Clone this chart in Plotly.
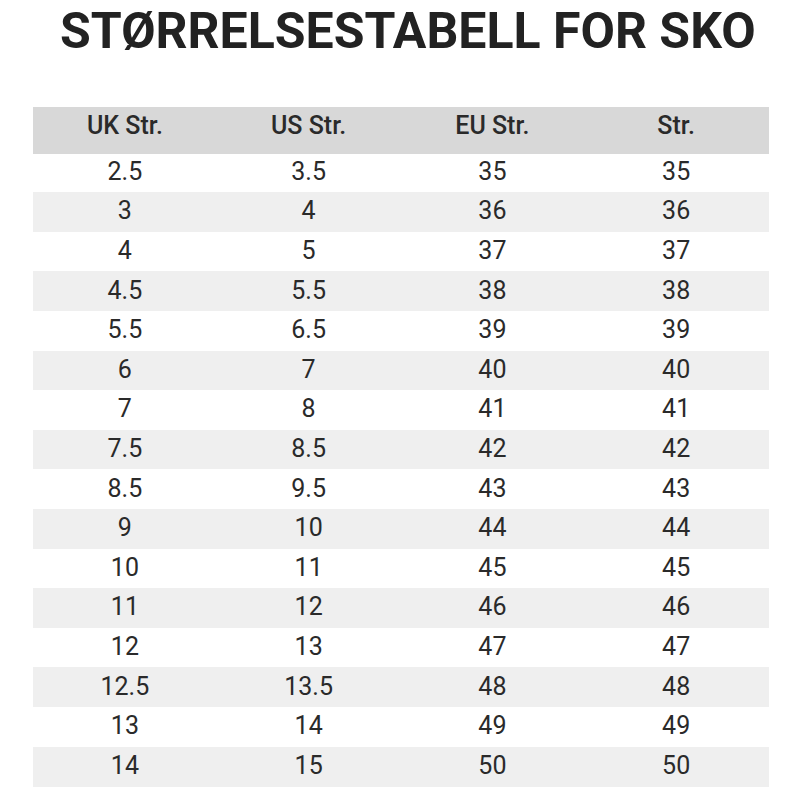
import plotly.graph_objects as go

title = "STØRRELSESTABELL FOR SKO"
headers = ["UK Str.", "US Str.", "EU Str.", "Str."]
uk = ["2.5","3","4","4.5","5.5","6","7","7.5","8.5","9","10","11","12","12.5","13","14"]
us = ["3.5","4","5","5.5","6.5","7","8","8.5","9.5","10","11","12","13","13.5","14","15"]
eu = ["35","36","37","38","39","40","41","42","43","44","45","46","47","48","49","50"]
st = ["35","36","37","38","39","40","41","42","43","44","45","46","47","48","49","50"]

fill = ["#ffffff" if i % 2 == 0 else "#efefef" for i in range(len(uk))]

fig = go.Figure(go.Table(
    domain=dict(x=[25/800, 760/800], y=[0, 1-99/800]),
    columnwidth=[1, 1, 1, 1],
    header=dict(values=headers, fill_color="#d8d8d8", line_color="#d8d8d8",
                align="center", height=46,
                font=dict(family="Roboto", size=25, color="#2a2a2a", weight=500)),
    cells=dict(values=[uk, us, eu, st], fill_color=[fill]*4, line_color=[fill]*4,
               align="center", height=39.6,
               font=dict(family="Roboto", size=25, color="#2a2a2a")),
))
fig.add_annotation(text="<b>"+title+"</b>", x=0.5, y=1-23/800, xref="paper", yref="paper",
                   yanchor="middle", showarrow=False,
                   font=dict(family="Roboto", size=50, color="#222222"))
fig.update_layout(width=800, height=800, margin=dict(l=0, r=0, t=0, b=0),
                  paper_bgcolor="white")
fig.write_html("out.html")
